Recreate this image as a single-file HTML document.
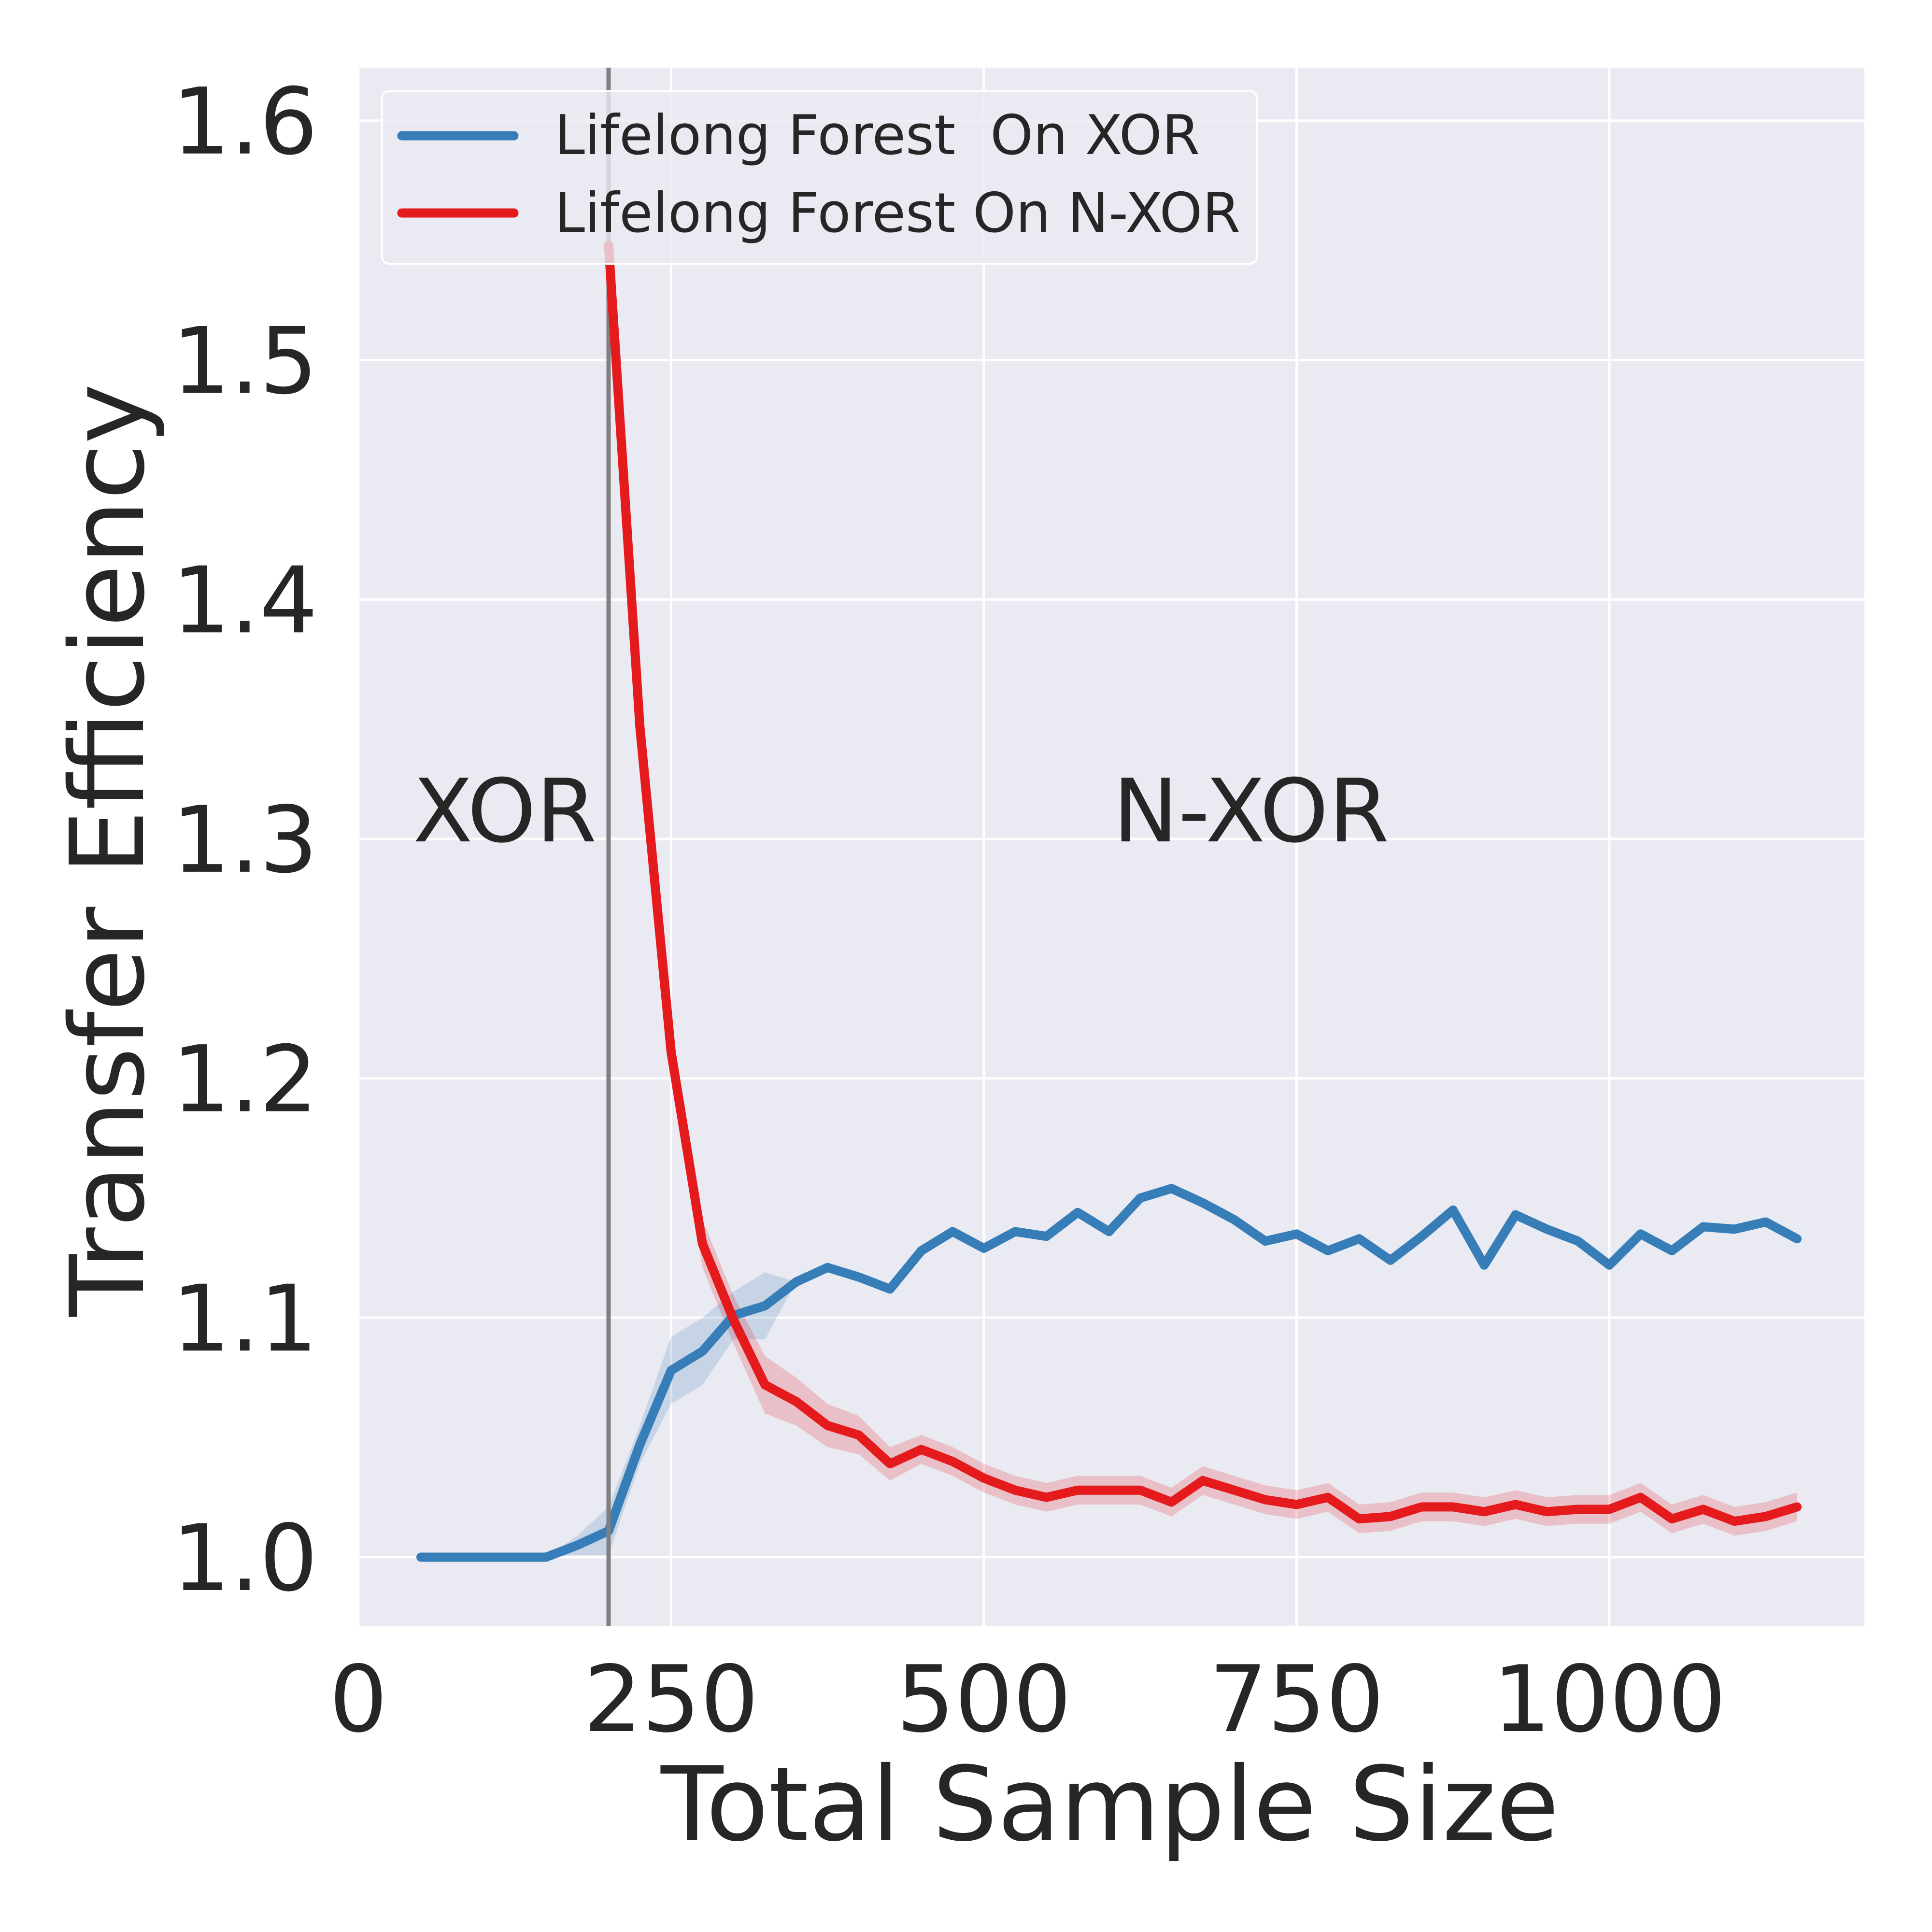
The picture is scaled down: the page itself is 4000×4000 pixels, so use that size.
<!DOCTYPE html>
<html><head><meta charset="utf-8"><style>html,body{margin:0;padding:0;background:#fff}svg{display:block}text{font-family:"DejaVu Sans","Liberation Sans",sans-serif;fill:#262626;white-space:pre}</style></head>
<body>
<svg id="chart" width="4000" height="4000" viewBox="0 0 4000 4000" xmlns="http://www.w3.org/2000/svg"></svg>
<script>
const xTicks=[0,250,500,750,1000];
const xTickLabels=["0","250","500","750","1000"];
const yTicks=[1.0,1.1,1.2,1.3,1.4,1.5,1.6];
const yTickLabels=["1.0","1.1","1.2","1.3","1.4","1.5","1.6"];
const blueX=[50,75,100,125,150,175,200,225,250,275,300,325,350,375,400,425,450,475,500,525,550,575,600,625,650,675,700,725,750,775,800,825,850,875,900,925,950,975,1000,1025,1050,1075,1100,1125,1150];
const blueY=[1.0,1.0,1.0,1.0,1.0,1.005,1.011,1.047,1.078,1.086,1.101,1.105,1.115,1.121,1.117,1.112,1.128,1.136,1.129,1.136,1.134,1.144,1.136,1.150,1.154,1.148,1.141,1.132,1.135,1.128,1.133,1.124,1.134,1.145,1.122,1.143,1.137,1.132,1.122,1.135,1.128,1.138,1.137,1.140,1.133];
const blueErr=[0,0,0,0,0,0.004,0.01,0.008,0.014,0.014,0.01,0.014,0,0,0,0,0,0,0,0,0,0,0,0,0,0,0,0,0,0,0,0,0,0,0,0,0,0,0,0,0,0,0,0,0];
const redX=[200,225,250,275,300,325,350,375,400,425,450,475,500,525,550,575,600,625,650,675,700,725,750,775,800,825,850,875,900,925,950,975,1000,1025,1050,1075,1100,1125,1150];
const redY=[1.548,1.347,1.211,1.131,1.099,1.072,1.065,1.055,1.051,1.039,1.045,1.040,1.033,1.028,1.025,1.028,1.028,1.028,1.023,1.032,1.028,1.024,1.022,1.025,1.016,1.017,1.021,1.021,1.019,1.022,1.019,1.020,1.020,1.025,1.016,1.020,1.015,1.017,1.021];
const redErr=[0.004,0.006,0.008,0.01,0.01,0.012,0.01,0.009,0.008,0.007,0.006,0.006,0.006,0.006,0.006,0.006,0.006,0.006,0.006,0.006,0.006,0.006,0.006,0.006,0.006,0.006,0.006,0.006,0.006,0.006,0.006,0.006,0.006,0.006,0.006,0.006,0.006,0.006,0.006];
const dividerX=200;

const NS="http://www.w3.org/2000/svg";
const svg=document.getElementById('chart');
const L=742,R=3860,T=140,B=3367;
const sx=v=>742+v*2.590;
const sy=v=>3224-(v-1.0)*4957;
function mk(tag,attrs,parent){const e=document.createElementNS(NS,tag);for(const k in attrs)e.setAttribute(k,attrs[k]);(parent||svg).appendChild(e);return e;}

const bg=mk('rect',{x:L,y:T,width:R-L,height:B-T,fill:'#eaeaf2'});


const grid=mk('g',{stroke:'#ffffff','stroke-width':5});


xTicks.forEach(v=>{mk('line',{x1:sx(v),x2:sx(v),y1:T,y2:B},grid);});
yTicks.forEach(v=>{mk('line',{x1:L,x2:R,y1:sy(v),y2:sy(v)},grid);});

xTicks.forEach((v,i)=>{const t=mk('text',{x:sx(v),y:3584,'font-size':190,'text-anchor':'middle'});t.textContent=xTickLabels[i];

});
yTicks.forEach((v,i)=>{const t=mk('text',{x:658,y:sy(v)+68,'font-size':190,'text-anchor':'end'});t.textContent=yTickLabels[i];

});

function band(xs,ys,es,color,name){let pts=xs.map((x,i)=>sx(x)+','+sy(ys[i]+es[i]));for(let i=xs.length-1;i>=0;i--)pts.push(sx(xs[i])+','+sy(ys[i]-es[i]));
const p=mk('polygon',{points:pts.join(' '),fill:color,'fill-opacity':0.2});

}
function line(xs,ys,color,name){const p=mk('polyline',{points:xs.map((x,i)=>sx(x)+','+sy(ys[i])).join(' '),fill:'none',stroke:color,'stroke-width':19,'stroke-linecap':'round','stroke-linejoin':'round'});

}
band(blueX,blueY,blueErr,'#377eb8','xor-band');
band(redX,redY,redErr,'#e41a1c','nxor-band');
line(blueX,blueY,'#377eb8','xor-line');
const vl=mk('line',{x1:sx(dividerX),x2:sx(dividerX),y1:T,y2:B,stroke:'#808080','stroke-width':9});


line(redX,redY,'#e41a1c','nxor-line');

const t1=mk('text',{x:855,y:1742,'font-size':181});t1.textContent='XOR';


const t2=mk('text',{x:2304,y:1742,'font-size':181});t2.textContent='N-XOR';



const lg=mk('g',{});


mk('rect',{x:791,y:189,width:1811,height:357,rx:14,fill:'#eaeaf2','fill-opacity':0.8,stroke:'#ffffff','stroke-width':4},lg);
mk('line',{x1:832,x2:1064,y1:281,y2:281,stroke:'#377eb8','stroke-width':19,'stroke-linecap':'round'},lg);
mk('line',{x1:832,x2:1064,y1:441,y2:441,stroke:'#e41a1c','stroke-width':19,'stroke-linecap':'round'},lg);
const l1=mk('text',{x:1148,y:319,'font-size':113},lg);l1.textContent='Lifelong Forest  On XOR';


const l2=mk('text',{x:1148,y:480,'font-size':113},lg);l2.textContent='Lifelong Forest On N-XOR';



const xt=mk('text',{x:2298,y:3809,'font-size':212,'text-anchor':'middle'});xt.textContent='Total Sample Size';


const yt=mk('text',{x:0,y:0,'font-size':211,'text-anchor':'middle',transform:'translate(296,1760) rotate(-90)'});yt.textContent='Transfer Efficiency';


</script>
</body></html>
